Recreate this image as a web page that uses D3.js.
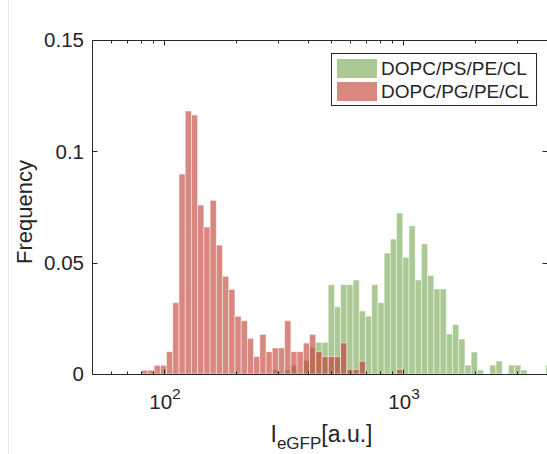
<!DOCTYPE html>
<html>
<head>
<meta charset="utf-8">
<script src="https://cdn.jsdelivr.net/npm/d3@7"></script>
<style>
  html, body { margin: 0; padding: 0; background: #fff; }
  svg { display: block; }
  text { font-family: "Liberation Sans", Arial, Helvetica, sans-serif; fill: #262626; }
</style>
</head>
<body>
<svg id="chart" width="547" height="454"></svg>
<script>
// ---- data ----
const seriesNames = ["DOPC/PS/PE/CL", "DOPC/PG/PE/CL"];
// log-spaced bins: lower edge of bin k = firstEdge * 10^(k * binWidthLog)
const firstEdge = 80.7;
const binWidthLog = 0.026;
// frequencies per bin (index k = 0..65)
const freqPS = [
  0, 0, 0, 0, 0, 0, 0, 0, 0, 0,
  0, 0, 0, 0, 0, 0, 0, 0, 0, 0,
  0, 0.0018, 0, 0.0018, 0.004, 0, 0.006, 0.012, 0.0142, 0.0142,
  0.0401, 0.0302, 0.0401, 0.0401, 0.0422, 0.0283, 0.0260, 0.0401, 0.0320, 0.0543,
  0.0606, 0.0723, 0.0524, 0.0665, 0.0422, 0.0584, 0.0443, 0.0382, 0.0382, 0.0180,
  0.0222, 0.0157, 0.0040, 0.0099, 0.0018, 0, 0.0040, 0.0058, 0, 0.0040,
  0.0040, 0.0018, 0, 0, 0, 0.0040
];
const freqPG = [
  0.0017, 0.0017, 0.0039, 0.0039, 0.0100, 0.0320, 0.0898, 0.1181, 0.1163, 0.0759,
  0.0660, 0.0780, 0.0579, 0.0439, 0.0380, 0.0259, 0.0239, 0.0160, 0.0078, 0.0178,
  0.0100, 0.0117, 0.0117, 0.0239, 0.0100, 0.0100, 0.0139, 0.0178, 0.0100, 0.0078,
  0.0078, 0.0078, 0.0140, 0.0021, 0.0021, 0.0057, 0, 0, 0, 0,
  0, 0.0021, 0, 0, 0, 0, 0, 0, 0, 0,
  0, 0, 0, 0, 0, 0, 0, 0, 0, 0,
  0, 0, 0, 0, 0, 0
];
const xDomain = [50, 4000];
const yDomain = [0, 0.15];
const yTicks = [0, 0.05, 0.1, 0.15];
const yTickLabels = ["0", "0.05", "0.1", "0.15"];
const xMajorTicks = [100, 1000];
const xTickExp = ["2", "3"];
const xMinorTicks = [60, 70, 80, 90, 200, 300, 400, 500, 600, 700, 800, 900, 2000, 3000];
const colors = ["rgb(115,165,77)", "rgb(191,57,43)"];

// ---- layout ----
const L = 92, R = 547, T = 40, B = 374;
const svg = d3.select("#chart");
const x = d3.scaleLog().domain(xDomain).range([L, R]);
const y = d3.scaleLinear().domain(yDomain).range([B, T]);
const axisColor = "#262626";

svg.append("line").attr("x1", 8.5).attr("x2", 8.5).attr("y1", 0).attr("y2", 454)
  .attr("stroke", "#ececec").attr("stroke-width", 1);

svg.append("defs").append("clipPath").attr("id", "clip")
  .append("rect").attr("x", L).attr("y", T).attr("width", R - L).attr("height", B - T);

const edge = k => firstEdge * Math.pow(10, k * binWidthLog);

const plot = svg.append("g").attr("clip-path", "url(#clip)");
[freqPS, freqPG].forEach((arr, si) => {
  plot.append("g").selectAll("rect")
    .data(arr.map((v, k) => ({ v, k })).filter(d => d.v > 0))
    .join("rect")
    .attr("x", d => x(edge(d.k)))
    .attr("width", d => x(edge(d.k + 1)) - x(edge(d.k)))
    .attr("y", d => y(d.v))
    .attr("height", d => y(0) - y(d.v))
    .attr("fill", colors[si])
    .attr("fill-opacity", 0.6)
    .attr("stroke", "#ffffff")
    .attr("stroke-opacity", 0.6)
    .attr("stroke-width", 0.8);
});

// ---- axes (MATLAB-style box with inward ticks) ----
const ax = svg.append("g").attr("stroke", axisColor).attr("stroke-width", 1).attr("fill", "none");
ax.append("path").attr("d", `M${L + 0.5},${T + 0.5}H${R + 0.5}V${B + 0.5}H${L + 0.5}Z`);
const majLen = 5, minLen = 3;
xMajorTicks.forEach(t => {
  const px = Math.round(x(t)) + 0.5;
  ax.append("line").attr("x1", px).attr("x2", px).attr("y1", B + 0.5).attr("y2", B + 0.5 - majLen);
  ax.append("line").attr("x1", px).attr("x2", px).attr("y1", T + 0.5).attr("y2", T + 0.5 + majLen);
});
xMinorTicks.forEach(t => {
  const px = Math.round(x(t)) + 0.5;
  ax.append("line").attr("x1", px).attr("x2", px).attr("y1", B + 0.5).attr("y2", B + 0.5 - minLen);
  ax.append("line").attr("x1", px).attr("x2", px).attr("y1", T + 0.5).attr("y2", T + 0.5 + minLen);
});
yTicks.forEach(t => {
  const py = Math.round(y(t)) + 0.5;
  ax.append("line").attr("x1", L + 0.5).attr("x2", L + 0.5 + majLen).attr("y1", py).attr("y2", py);
  ax.append("line").attr("x1", R + 0.5).attr("x2", R + 0.5 - majLen).attr("y1", py).attr("y2", py);
});

// y tick labels
svg.append("g").selectAll("text").data(yTicks).join("text")
  .attr("x", L - 8).attr("y", d => y(d)).attr("dy", "0.35em")
  .attr("text-anchor", "end").attr("font-size", 20.5)
  .text((d, i) => yTickLabels[i]);

// x tick labels 10^n
xMajorTicks.forEach((t, i) => {
  const tx = svg.append("text").attr("x", x(t) + 1).attr("y", B + 35)
    .attr("text-anchor", "middle").attr("font-size", 20.5);
  tx.append("tspan").text("10");
  tx.append("tspan").attr("dy", -10).attr("font-size", 15.5).text(xTickExp[i]);
});

// axis labels
svg.append("text").attr("transform", `translate(32,${(T + B) / 2 + 5}) rotate(-90)`)
  .attr("text-anchor", "middle").attr("font-size", 22).text("Frequency");

const xl = svg.append("text").attr("x", (L + R) / 2 + 2).attr("y", 442)
  .attr("text-anchor", "middle").attr("font-size", 23);
xl.append("tspan").text("I");
xl.append("tspan").attr("dy", 7).attr("font-size", 17).text("eGFP");
xl.append("tspan").attr("dy", -7).text("[a.u.]");

// legend
const lg = svg.append("g");
lg.append("rect").attr("x", 331.5).attr("y", 53.5).attr("width", 205).attr("height", 52)
  .attr("fill", "#fff").attr("stroke", axisColor).attr("stroke-width", 1);
seriesNames.forEach((name, i) => {
  const yy = 59 + i * 23;
  lg.append("rect").attr("x", 337).attr("y", yy).attr("width", 40).attr("height", 19)
    .attr("fill", colors[i]).attr("fill-opacity", 0.6);
  lg.append("text").attr("x", 381).attr("y", yy + 9.5).attr("dy", "0.35em")
    .attr("font-size", 19).text(name);
});
</script>
</body>
</html>
